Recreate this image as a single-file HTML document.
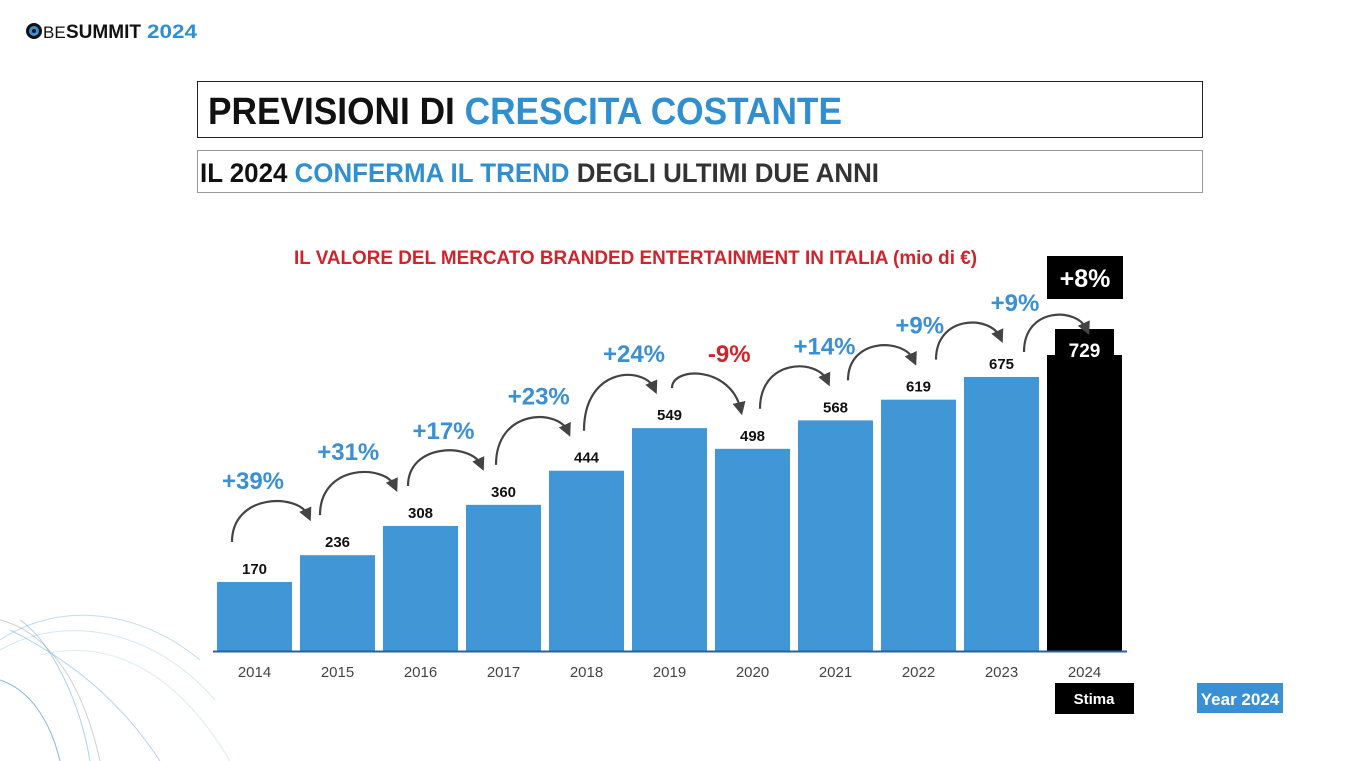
<!DOCTYPE html>
<html><head><meta charset="utf-8"><style>
html,body{margin:0;padding:0;background:#fff;}
svg{display:block;font-family:"Liberation Sans",sans-serif;}
</style></head><body>
<svg id="c" width="1353" height="761" viewBox="0 0 1353 761">
<g fill="none" stroke-width="1">
 <path d="M0 640 C60 600 140 610 200 660" stroke="#9cc7e6" opacity="0.6"/>
 <path d="M0 650 C60 615 150 625 215 700" stroke="#b7d6ee" opacity="0.6"/>
 <path d="M10 630 C70 660 120 700 160 761" stroke="#7fb7df" opacity="0.6"/>
 <path d="M0 680 C30 690 50 720 60 761" stroke="#4a9ad5" opacity="0.7"/>
 <path d="M0 620 C40 630 80 670 100 761" stroke="#888" opacity="0.4"/>
 <path d="M40 655 C100 640 170 660 230 761" stroke="#cfe3f3" opacity="0.7"/>
 <path d="M20 620 C50 640 80 700 90 761" stroke="#5aa5db" opacity="0.5"/>
</g>
<g>
 <circle cx="34" cy="31" r="8" fill="#111"/><circle cx="34" cy="31" r="5" fill="#3d8fd0"/><circle cx="34" cy="31" r="2" fill="#111"/>
 <text x="43" y="38" font-size="17" fill="#111">BE</text>
 <text x="66" y="38" font-size="19" font-weight="bold" fill="#111" textLength="75" lengthAdjust="spacingAndGlyphs">SUMMIT</text>
 <text x="147" y="38" font-size="19" font-weight="bold" fill="#2f8fd0" textLength="50" lengthAdjust="spacingAndGlyphs">2024</text>
</g>
<rect x="197.5" y="81.5" width="1005" height="56" fill="none" stroke="#222"/>
<text x="208" y="124" font-size="38" font-weight="bold" textLength="634" lengthAdjust="spacingAndGlyphs"><tspan fill="#111">PREVISIONI DI </tspan><tspan fill="#2f8fd0">CRESCITA COSTANTE</tspan></text>
<rect x="197.5" y="150.5" width="1005" height="42" fill="none" stroke="#999"/>
<text x="200" y="182" font-size="27" font-weight="bold" textLength="679" lengthAdjust="spacingAndGlyphs"><tspan fill="#111">IL 2024 </tspan><tspan fill="#2f8fd0">CONFERMA IL TREND </tspan><tspan fill="#333">DEGLI ULTIMI DUE ANNI</tspan></text>
<text x="294" y="264" font-size="19" font-weight="bold" fill="#d0242a" textLength="683" lengthAdjust="spacingAndGlyphs">IL VALORE DEL MERCATO BRANDED ENTERTAINMENT IN ITALIA (mio di €)</text>
<g id="plot"></g>
</svg>
<script>
const categories=['2014','2015','2016','2017','2018','2019','2020','2021','2022','2023','2024'];
const values=[170,236,308,360,444,549,498,568,619,675,729];
const growthLabels=['+39%','+31%','+17%','+23%','+24%','-9%','+14%','+9%','+9%','+8%'];
const NS='http://www.w3.org/2000/svg';
const g=document.getElementById('plot');
const base=651,scale=0.406,x0=217,step=83,bw=75;
const xs=i=>x0+i*step;
const ys=v=>base-v*scale;
function mk(t,a,p){const e=document.createElementNS(NS,t);for(const k in a)e.setAttribute(k,a[k]);(p||g).appendChild(e);return e;}
const defs=mk('defs',{});
const m=mk('marker',{id:'ah',markerWidth:'6',markerHeight:'6',refX:'3',refY:'3',orient:'auto'},defs);
mk('path',{d:'M0,0 L6,3 L0,6 Z',fill:'#444'},m);
const last=categories.length-1;
categories.forEach((c,i)=>{
 const x=xs(i),y=ys(values[i]);
 const r=mk('rect',{x:x,y:y,width:bw,height:base-y,fill:i===last?'#000':'#4196d5'});
 
 
 if(i===last){
  const lb=mk('rect',{x:x+8,y:y-26,width:bw-16,height:38,fill:'#000'});
  
  
 }
 const t=mk('text',{x:x+bw/2,y:i===last?y+2:y-8,'text-anchor':'middle','font-size':i===last?'19':'15','font-weight':'bold',fill:i===last?'#fff':'#111'});
 t.textContent=values[i];
 
 
 const xl=mk('text',{x:x+bw/2,y:677,'text-anchor':'middle','font-size':'15',fill:'#444'});
 xl.textContent=c;
 
 
});
mk('line',{x1:213,x2:1127,y1:base+0.5,y2:base+0.5,stroke:'#2a5fa0','stroke-width':'2'});
for(let i=0;i<last;i++){
 const isLast=(i+1===last);
 const sx=xs(i)+15+i*5,sy=ys(values[i])-(isLast?25:40),ex=xs(i+1)+8+i*3.5,ey=ys(values[i+1])-(isLast?26:40);
 const pk=Math.min(sy,ey)-22;
 const a=mk('path',{d:`M${sx},${sy} C${sx},${pk} ${ex-10},${pk} ${ex},${ey}`,fill:'none',stroke:'#444','stroke-width':'2.2','marker-end':'url(#ah)'});
 
 
 if(isLast)continue;
 const neg=growthLabels[i].startsWith('-');
 const t=mk('text',{x:(sx+ex)/2-17+i*8,y:pk-4,'text-anchor':'middle','font-size':'24','font-weight':'bold',fill:neg?'#d0242a':'#3a90d4'});
 t.textContent=growthLabels[i];
 
 
}
const gb=mk('rect',{x:1047,y:256,width:76,height:43,fill:'#000'});


const gt=mk('text',{x:1085,y:287,'text-anchor':'middle','font-size':'25','font-weight':'bold',fill:'#fff'});
gt.textContent=growthLabels[last-1];


const sb=mk('rect',{x:1055,y:683,width:79,height:31,fill:'#000'});


const st=mk('text',{x:1094,y:704,'text-anchor':'middle','font-size':'15','font-weight':'bold',fill:'#fff'});
st.textContent='Stima';


const yb=mk('rect',{x:1197,y:683,width:86,height:30,fill:'#3a90d4'});


const yt=mk('text',{x:1240,y:705,'text-anchor':'middle','font-size':'17','font-weight':'bold',fill:'#fff'});
yt.textContent='Year 2024';


</script>
</body></html>
